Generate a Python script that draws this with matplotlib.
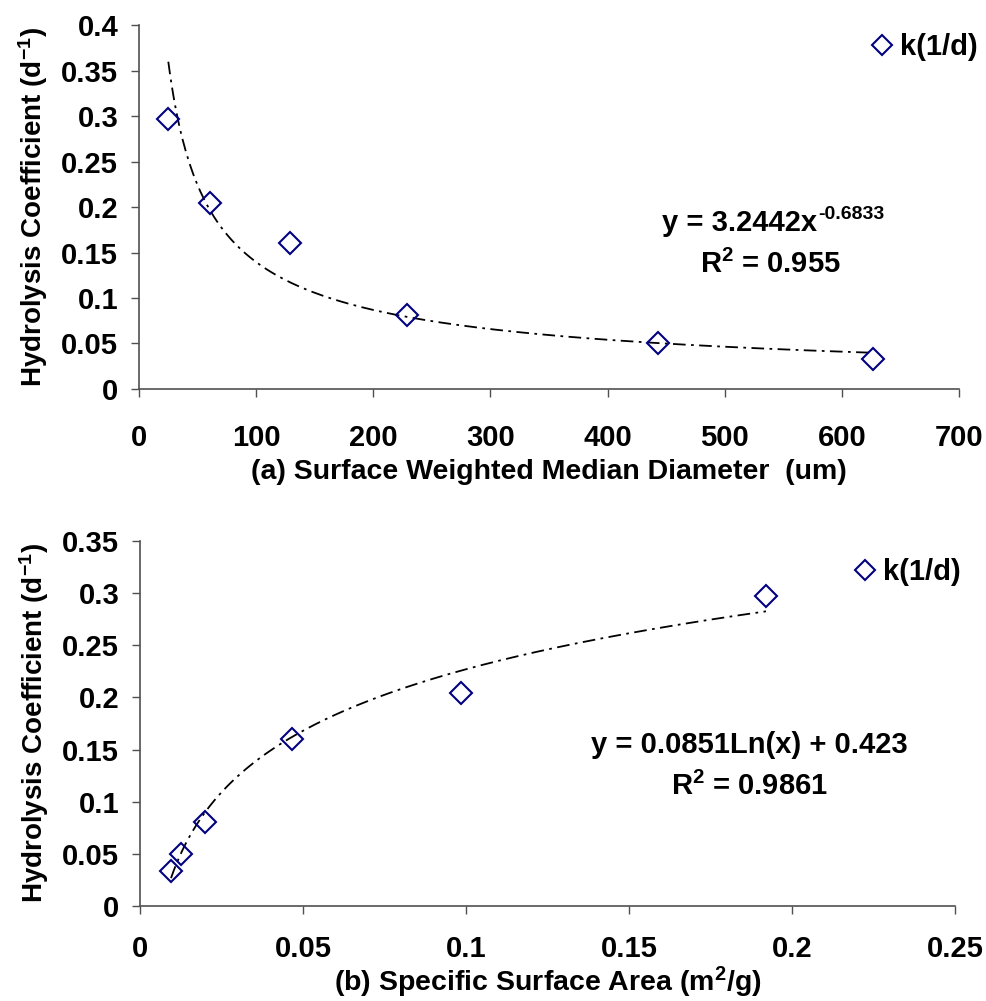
import numpy as np
import matplotlib
matplotlib.use("Agg")
import matplotlib.pyplot as plt

# ---- data ----
k_values = [0.297, 0.204, 0.160, 0.081, 0.050, 0.033]
diameter_um = [25, 61, 129, 229, 443, 627]
k_by_ssa = [0.034, 0.050, 0.081, 0.160, 0.204, 0.297]
ssa_m2g = [0.0095, 0.0127, 0.020, 0.0467, 0.0985, 0.192]

power_a, power_b = 3.2442, -0.6833
log_a, log_b = 0.0851, 0.423

yticks_a = [0, 0.05, 0.1, 0.15, 0.2, 0.25, 0.3, 0.35, 0.4]
yticklabels_a = ["0", "0.05", "0.1", "0.15", "0.2", "0.25", "0.3", "0.35", "0.4"]
xticks_a = [0, 100, 200, 300, 400, 500, 600, 700]
yticks_b = [0, 0.05, 0.1, 0.15, 0.2, 0.25, 0.3, 0.35]
yticklabels_b = ["0", "0.05", "0.1", "0.15", "0.2", "0.25", "0.3", "0.35"]
xticks_b = [0, 0.05, 0.1, 0.15, 0.2, 0.25]
xticklabels_b = ["0", "0.05", "0.1", "0.15", "0.2", "0.25"]

plt.rcParams['font.family'] = ['Liberation Sans', 'DejaVu Sans']
plt.rcParams['font.weight'] = 'bold'
plt.rcParams['mathtext.fontset'] = 'custom'
plt.rcParams['mathtext.rm'] = 'Liberation Sans:bold'
plt.rcParams['mathtext.bf'] = 'Liberation Sans:bold'
plt.rcParams['mathtext.it'] = 'Liberation Sans:bold'
plt.rcParams['mathtext.default'] = 'bf'

TK_FS = 21      # tick labels
XL_FS = 20.5    # x axis titles
YL_FS = 20      # y axis titles
EQ_FS = 21      # equation text
SUP_FS = 14     # equation exponent
LG_FS = 21      # legend text
NAVY = '#000080'
SPINE = '#505050'

fig = plt.figure(figsize=(9.86, 10.01), dpi=100)
ax1 = fig.add_axes([0.141, 0.6114, 0.8316, 0.3636])
ax2 = fig.add_axes([0.142, 0.0949, 0.8266, 0.3646])

def style(ax, xpad):
    for s in ['top', 'right']:
        ax.spines[s].set_visible(False)
    for s in ['left', 'bottom']:
        ax.spines[s].set_color(SPINE)
        ax.spines[s].set_linewidth(1.2)
    ax.tick_params(direction='out', length=6, width=1.0, color=SPINE,
                   labelsize=TK_FS)
    ax.tick_params(axis='x', pad=xpad)
    ax.tick_params(axis='y', pad=9)
    for lab in ax.get_xticklabels() + ax.get_yticklabels():
        lab.set_fontweight('bold')

def add_legend(ax, x, y):
    ax.legend(loc='center left', bbox_to_anchor=(x, y),
              bbox_transform=fig.transFigure, frameon=False,
              handlelength=0.75, handletextpad=0.25, borderpad=0,
              borderaxespad=0, prop={'weight': 'bold', 'size': LG_FS},
              markerscale=0.85)

# top chart
ax1.plot(diameter_um, k_values, linestyle='none', marker='D', markersize=11.5,
         markerfacecolor='none', markeredgecolor=NAVY, markeredgewidth=1.5,
         label='k(1/d)', zorder=3)
xa = np.linspace(min(diameter_um), max(diameter_um), 400)
ax1.plot(xa, power_a * xa ** power_b, color='black', linewidth=1.3,
         linestyle=(0, (7, 3, 1.5, 3)), zorder=2)
ax1.set_xlim(0, 700)
ax1.set_ylim(0, 0.4)
ax1.set_xticks(xticks_a)
ax1.set_yticks(yticks_a)
ax1.set_yticklabels(yticklabels_a)
style(ax1, 19)
ax1.set_xlabel('(a) Surface Weighted Median Diameter  (um)', fontsize=XL_FS,
               fontweight='bold', labelpad=5)
ax1.set_ylabel('Hydrolysis Coefficient (d$^{-1}$)', fontsize=YL_FS,
               fontweight='bold', labelpad=8)
eq_main = fig.text(0.6714, 0.769, f'y = {power_a}x', ha='left', va='baseline',
                   fontsize=EQ_FS, fontweight='bold')
ax1.annotate(f'{power_b}', xy=(1, 1), xycoords=eq_main, xytext=(0.5, 2.5),
             textcoords='offset points', ha='left', va='top',
             fontsize=SUP_FS, fontweight='bold')
fig.text(0.781, 0.727, 'R$^{2}$ = 0.955', ha='center', va='baseline',
         fontsize=EQ_FS, fontweight='bold')
add_legend(ax1, 0.8834, 0.953)

# bottom chart
ax2.plot(ssa_m2g, k_by_ssa, linestyle='none', marker='D', markersize=11.5,
         markerfacecolor='none', markeredgecolor=NAVY, markeredgewidth=1.5,
         label='k(1/d)', zorder=3)
xb = np.linspace(min(ssa_m2g), max(ssa_m2g), 400)
ax2.plot(xb, log_a * np.log(xb) + log_b, color='black', linewidth=1.3,
         linestyle=(0, (7, 3, 1.5, 3)), zorder=2)
ax2.set_xlim(0, 0.25)
ax2.set_ylim(0, 0.35)
ax2.set_xticks(xticks_b)
ax2.set_xticklabels(xticklabels_b)
ax2.set_yticks(yticks_b)
ax2.set_yticklabels(yticklabels_b)
style(ax2, 15)
ax2.set_xlabel('(b) Specific Surface Area (m$^{2}$/g)', fontsize=XL_FS,
               fontweight='bold', labelpad=1.5)
ax2.set_ylabel('Hydrolysis Coefficient (d$^{-1}$)', fontsize=YL_FS,
               fontweight='bold', labelpad=8)
fig.text(0.760, 0.2478, f'y = {log_a}Ln(x) + {log_b}', ha='center',
         va='baseline', fontsize=EQ_FS, fontweight='bold')
fig.text(0.760, 0.2058, 'R$^{2}$ = 0.9861', ha='center', va='baseline',
         fontsize=EQ_FS, fontweight='bold')
add_legend(ax2, 0.866, 0.4286)

fig.savefig('out.png', dpi=100)
